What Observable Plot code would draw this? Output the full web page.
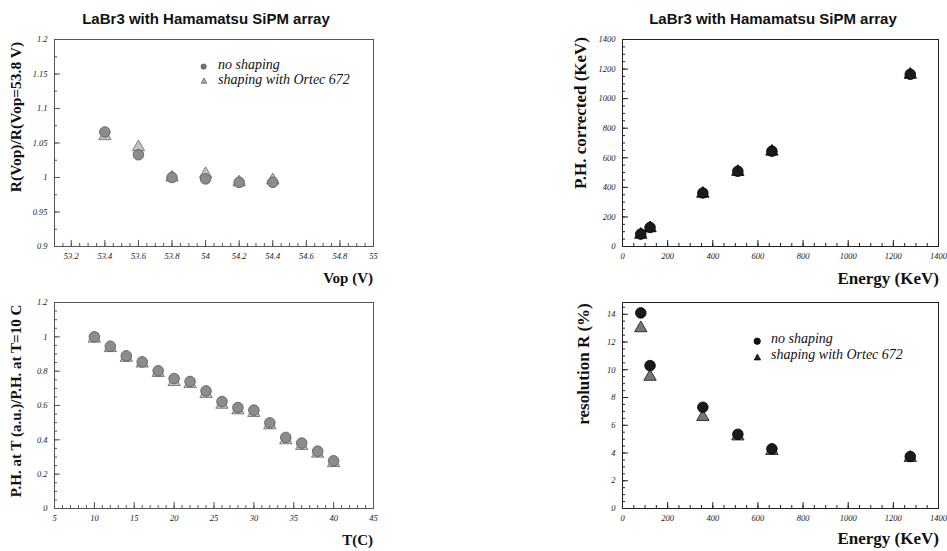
<!DOCTYPE html>
<html><head><meta charset="utf-8">
<script src="https://cdn.jsdelivr.net/npm/d3@7"></script>
<script src="https://cdn.jsdelivr.net/npm/@observablehq/plot@0.6"></script>
<style>
body{margin:0;background:#fff;width:947px;height:551px;overflow:hidden;position:relative;}
.abs{position:absolute;white-space:nowrap;line-height:1;}
.title{font:bold 15px "Liberation Sans",Arial,sans-serif;transform:translate(-50%,-50%);color:#111}
.axt{font-family:"Liberation Serif","Times New Roman",serif;font-weight:bold;color:#111}
.xt{transform:translate(-100%,-50%)}
.yt{transform:translate(-50%,-50%) rotate(-90deg)}
.leg{font:italic 14px "Liberation Serif",serif;color:#111;transform:translate(0,-55%);line-height:12px}
.panel{position:absolute}
svg.mk{position:absolute;overflow:visible}
</style></head><body>
<script>
// ---- data ----
const vop = [53.4, 53.6, 53.8, 54.0, 54.2, 54.4];
const ratioNoShaping = [1.066, 1.033, 1.000, 0.998, 0.993, 0.993];
const ratioShaping   = [1.060, 1.044, 1.000, 1.005, 0.993, 0.996];

const temp = [10, 12, 14, 16, 18, 20, 22, 24, 26, 28, 30, 32, 34, 36, 38, 40];
const phNoShaping = [1.000, 0.945, 0.889, 0.854, 0.802, 0.757, 0.740, 0.685, 0.623, 0.588, 0.573, 0.499, 0.414, 0.381, 0.334, 0.278];
const phShaping   = [0.990, 0.935, 0.878, 0.845, 0.790, 0.737, 0.726, 0.668, 0.605, 0.572, 0.557, 0.485, 0.398, 0.365, 0.320, 0.265];

const energy = [81, 122, 356, 511, 662, 1275];
const phcNoShaping = [84, 129, 362, 509, 645, 1165];
const phcShaping   = [80, 124, 357, 505, 642, 1162];
const resNoShaping = [14.1, 10.3, 7.3, 5.35, 4.3, 3.75];
const resShaping   = [13.0, 9.5, 6.6, 5.2, 4.15, 3.65];

// tick labels
const vopTicks = [53.2, 53.4, 53.6, 53.8, 54, 54.2, 54.4, 54.6, 54.8, 55];
const ratioTicks = [0.9, 0.95, 1, 1.05, 1.1, 1.15, 1.2];
const tempTicks = [5, 10, 15, 20, 25, 30, 35, 40, 45];
const phTicks = [0, 0.2, 0.4, 0.6, 0.8, 1, 1.2];
const energyTicks = [0, 200, 400, 600, 800, 1000, 1200, 1400];
const phcTicks = [0, 200, 400, 600, 800, 1000, 1200, 1400];
const resTicks = [0, 2, 4, 6, 8, 10, 12, 14];

const titleText = "LaBr3 with Hamamatsu SiPM array";
const seriesNames = ["no shaping", "shaping with Ortec 672"];

// ---- helpers ----
function minor(domain, step){
  const out = [];
  const start = Math.ceil(domain[0]/step - 1e-9);
  const end = Math.floor(domain[1]/step + 1e-9);
  for (let i = start; i <= end; i++) out.push(+(i*step).toFixed(6));
  return out;
}
const fmt = d => String(+(+d).toFixed(3));
function pts(xs, ys){ return xs.map((x,i)=>({x, y: ys[i]})); }

function makePanel(o){
  const iw = o.width - o.ml - o.mr, ih = o.height - o.mt - o.mb;
  return Plot.plot({
    width:o.width, height:o.height,
    marginTop:o.mt, marginBottom:o.mb, marginLeft:o.ml, marginRight:o.mr,
    x:{domain:o.xDomain}, y:{domain:o.yDomain},
    style:{fontFamily:'"Liberation Serif",serif', fontStyle:'italic', fontSize:'8.5px', color:'#222', background:'transparent', overflow:'visible'},
    marks:[
      Plot.tickX(minor(o.xDomain, o.xStep), {x:d=>d, insetTop: ih-3, stroke:o.frame}),
      Plot.tickX(o.xTicks, {x:d=>d, insetTop: ih-6, stroke:o.frame}),
      Plot.tickY(minor(o.yDomain, o.yStep), {y:d=>d, insetRight: iw-3, stroke:o.frame}),
      Plot.tickY(o.yTicks, {y:d=>d, insetRight: iw-6, stroke:o.frame}),
      Plot.axisX(o.xTicks, {tickSize:0, tickPadding:6, tickFormat:fmt, label:null}),
      Plot.axisY(o.yTicks, {tickSize:0, tickPadding:7, tickFormat:fmt, label:null}),
      Plot.frame({stroke:o.frame}),
      Plot.dot(o.tri, {x:"x", y:"y", symbol:"triangle", r:4.6, fill:o.triFill, stroke:o.triStroke, strokeWidth:0.8}),
      Plot.dot(o.circ, {x:"x", y:"y", r:5.3, fill:o.circFill, stroke:o.circStroke, strokeWidth:0.8})
    ]
  });
}

function place(el, left, top){
  const d = document.createElement("div");
  d.className = "panel"; d.style.left = left+"px"; d.style.top = top+"px";
  d.appendChild(el); document.body.appendChild(d);
}
function text(cls, str, x, y, size){
  const d = document.createElement("div");
  d.className = "abs " + cls; d.textContent = str;
  d.style.left = x+"px"; d.style.top = y+"px";
  if (size) d.style.fontSize = size+"px";
  document.body.appendChild(d);
}
function marker(kind, x, y, r, fill, stroke){
  const ns = "http://www.w3.org/2000/svg";
  const s = document.createElementNS(ns, "svg");
  s.setAttribute("class","mk"); s.setAttribute("width",2*r+2); s.setAttribute("height",2*r+2);
  s.style.left = (x-r-1)+"px"; s.style.top = (y-r-1)+"px";
  let e;
  if (kind === "circle"){ e = document.createElementNS(ns,"circle"); e.setAttribute("cx",r+1); e.setAttribute("cy",r+1); e.setAttribute("r",r); }
  else { e = document.createElementNS(ns,"path"); const c=r+1; e.setAttribute("d",`M${c},${c-r}L${c+r*0.95},${c+r*0.75}L${c-r*0.95},${c+r*0.75}Z`); }
  e.setAttribute("fill",fill); e.setAttribute("stroke",stroke); e.setAttribute("stroke-width","0.7");
  s.appendChild(e); document.body.appendChild(s);
}

// ---- panel 1: ratio vs Vop ----
place(makePanel({width:400, height:280, mt:39, mb:34, ml:54, mr:27,
  xDomain:[53.1, 55], yDomain:[0.9, 1.2], xTicks:vopTicks, yTicks:ratioTicks, xStep:0.05, yStep:0.025,
  frame:"#555", circ:pts(vop, ratioNoShaping), tri:pts(vop, ratioShaping),
  circFill:"#8c8c8c", circStroke:"#555", triFill:"#c4c4c4", triStroke:"#666"}), 0, 0);

// ---- panel 3: PH vs T ----
place(makePanel({width:400, height:280, mt:40, mb:34, ml:54, mr:27,
  xDomain:[5, 45], yDomain:[0, 1.2], xTicks:tempTicks, yTicks:phTicks, xStep:1, yStep:0.05,
  frame:"#555", circ:pts(temp, phNoShaping), tri:pts(temp, phShaping),
  circFill:"#8c8c8c", circStroke:"#555", triFill:"#c4c4c4", triStroke:"#666"}), 0, 262);

// ---- panel 2: PH corrected vs energy ----
place(makePanel({width:407, height:280, mt:39, mb:34, ml:82, mr:9,
  xDomain:[0, 1400], yDomain:[0, 1400], xTicks:energyTicks, yTicks:phcTicks, xStep:50, yStep:50,
  frame:"#222", circ:pts(energy, phcNoShaping), tri:pts(energy, phcShaping),
  circFill:"#1a1a1a", circStroke:"#000", triFill:"#333", triStroke:"#000"}), 540, 0);

// ---- panel 4: resolution vs energy ----
place(makePanel({width:407, height:280, mt:40, mb:34, ml:82, mr:9,
  xDomain:[0, 1400], yDomain:[0, 14.85], xTicks:energyTicks, yTicks:resTicks, xStep:50, yStep:0.5,
  frame:"#222", circ:pts(energy, resNoShaping), tri:pts(energy, resShaping),
  circFill:"#1a1a1a", circStroke:"#000", triFill:"#777", triStroke:"#111"}), 540, 262);

// ---- titles ----
text("title", titleText, 206, 18);
text("title", titleText, 773, 18);

// axis titles
text("axt xt", "Vop (V)", 373, 278, 15);
text("axt xt", "T(C)", 373, 540, 15);
text("axt xt", "Energy (KeV)", 939, 278, 17);
text("axt xt", "Energy (KeV)", 939, 538, 17);
text("axt yt", "R(Vop)/R(Vop=53.8 V)", 16, 117, 15.5);
text("axt yt", "P.H. at T (a.u.)/P.H. at T=10 C", 16, 401, 15);
text("axt yt", "P.H. corrected (KeV)", 580, 113, 17);
text("axt yt", "resolution R (%)", 583, 364, 17);

// legends
marker("circle", 204, 67, 2.6, "#777", "#444");
marker("tri", 204, 81, 3.0, "#aaa", "#555");
text("leg", seriesNames[0], 218, 66);
text("leg", seriesNames[1], 218, 81);

marker("circle", 757, 341, 3.2, "#111", "#000");
marker("tri", 757, 357, 3.4, "#222", "#000");
text("leg", seriesNames[0], 771, 340);
text("leg", seriesNames[1], 771, 356);
</script>
</body></html>
